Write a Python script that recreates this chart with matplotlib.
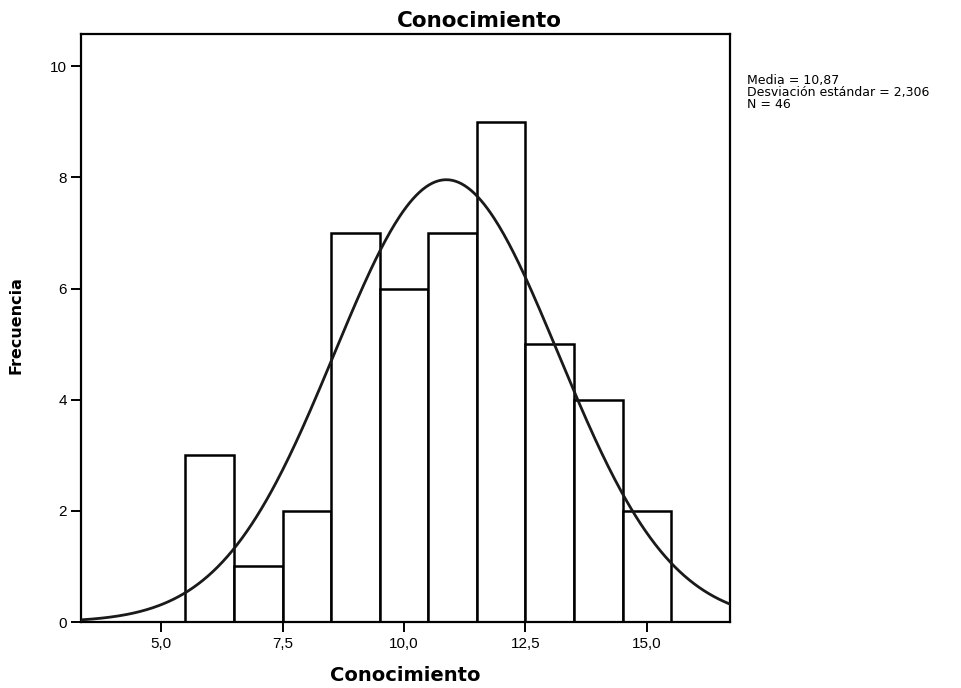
import numpy as np
import matplotlib.pyplot as plt

plt.rcParams['font.family'] = ['Liberation Sans', 'DejaVu Sans']

# Datos del histograma
bin_centers = [6, 7, 8, 9, 10, 11, 12, 13, 14, 15]
frecuencias = [3, 1, 2, 7, 6, 7, 9, 5, 4, 2]
media = 10.87
desviacion = 2.306
n_total = 46
ancho = 1.0

fig = plt.figure(figsize=(9.62, 6.88), dpi=100)
ax = fig.add_axes([0.0842, 0.0959, 0.6746, 0.8547])

ax.bar(bin_centers, frecuencias, width=ancho, color='white',
       edgecolor='black', linewidth=1.8, zorder=2)

# Curva normal
x0, x1 = 3.35, 16.71
xs = np.linspace(x0, x1, 400)
ys = n_total * ancho / (desviacion * np.sqrt(2 * np.pi)) * np.exp(-0.5 * ((xs - media) / desviacion) ** 2)
ax.plot(xs, ys, color='#1a1a1a', linewidth=2.0, zorder=3)

ax.set_xlim(x0, x1)
ax.set_ylim(0, 10.58)
ax.set_xticks([5.0, 7.5, 10.0, 12.5, 15.0])
ax.set_xticklabels(['5,0', '7,5', '10,0', '12,5', '15,0'])
ax.set_yticks([0, 2, 4, 6, 8, 10])
ax.tick_params(direction='out', length=7, width=1.4, labelsize=11, top=False, right=False)
ax.tick_params(axis='x', pad=4)
ax.tick_params(axis='y', pad=3)
for s in ax.spines.values():
    s.set_linewidth(1.6)

fig.text(0.498, 0.9608, 'Conocimiento', fontsize=15.5, fontweight='bold',
         family='DejaVu Sans', ha='center', va='baseline')
ax.set_xlabel('Conocimiento', fontsize=14, fontweight='bold', family='DejaVu Sans')
ax.xaxis.set_label_coords(0.5, -0.074)
ax.set_ylabel('Frecuencia', fontsize=11.5, fontweight='bold', family='DejaVu Sans')
ax.yaxis.set_label_coords(-0.089, 0.505)

fig.text(0.7765, 0.8924, 'Media = 10,87\nDesviación estándar = 2,306\nN = 46',
         fontsize=9, family='DejaVu Sans', va='top', ha='left', linespacing=0.9)

fig.savefig('out.png', dpi=100)
